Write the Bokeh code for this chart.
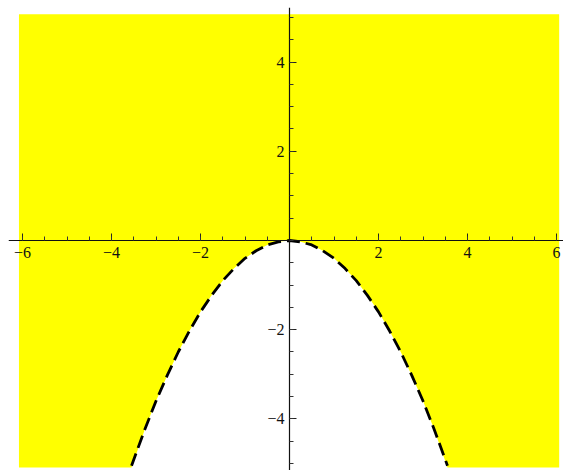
import numpy as np
from bokeh.plotting import figure
from bokeh.models import LinearAxis, FixedTicker
from bokeh.embed import file_html
from bokeh.resources import INLINE

curve_x = [-3.55, -3.25, -3.0, -2.75, -2.5, -2.25, -2.0, -1.75, -1.5, -1.25,
           -1.0, -0.75, -0.5, -0.25, 0.0, 0.25, 0.5, 0.75, 1.0, 1.25,
           1.5, 1.75, 2.0, 2.25, 2.5, 2.75, 3.0, 3.25, 3.55]
curve_y = [-5.05, -4.23, -3.6, -3.03, -2.5, -2.03, -1.6, -1.23, -0.9, -0.63,
           -0.4, -0.23, -0.1, -0.03, 0.0, -0.03, -0.1, -0.23, -0.4, -0.63,
           -0.9, -1.23, -1.6, -2.03, -2.5, -3.03, -3.6, -4.23, -5.05]

# Axis ticks
x_major_ticks = [-6, -4, -2, 2, 4, 6]
y_major_ticks = [-4, -2, 2, 4]

# Extent of the shaded region
x_lo, x_hi = -6.08, 6.06
y_lo, y_hi = -5.09, 5.07

p = figure(width=563, height=470, output_backend="svg", toolbar_location=None,
           x_range=(-6.315, 6.157), y_range=(-5.157, 5.224),
           x_axis_location=None, y_axis_location=None,
           min_border_left=8, min_border_top=7, min_border_right=0, min_border_bottom=0)
p.outline_line_color = None
p.grid.visible = False
p.background_fill_color = "white"
p.border_fill_color = "white"

# Shaded region: the rectangle minus the area below the curve
patch_x = [x_lo, x_hi, x_hi] + curve_x[::-1] + [x_lo]
patch_y = [y_hi, y_hi, y_lo, y_lo] + curve_y[::-1][1:-1] + [y_lo, y_lo]
p.patch(patch_x, patch_y, fill_color="#FFFF00", line_color=None)

p.line(curve_x, curve_y, line_color="black", line_width=2.8,
       line_dash="13 6", line_cap="butt")

x_minor = [float(v) for v in np.arange(-6.0, 6.01, 0.5)]
y_minor = [float(v) for v in np.arange(-5.0, 5.01, 0.5)]

font = "Liberation Serif"


def minus_label(t):
    return "\u2212" + str(-t) if t < 0 else str(t)


xaxis = LinearAxis(fixed_location=0,
                   ticker=FixedTicker(ticks=x_major_ticks, minor_ticks=x_minor))
yaxis = LinearAxis(fixed_location=0,
                   ticker=FixedTicker(ticks=y_major_ticks, minor_ticks=y_minor))
for ax, ticks, standoff in ((xaxis, x_major_ticks, 7), (yaxis, y_major_ticks, 5)):
    ax.axis_line_color = "#111111"
    ax.axis_line_width = 1.2
    ax.major_tick_in = 7
    ax.major_tick_out = 0
    ax.minor_tick_in = 4
    ax.minor_tick_out = 0
    ax.major_tick_line_color = "#222222"
    ax.minor_tick_line_color = "#333333"
    ax.major_label_text_font = font
    ax.major_label_text_font_size = "16px"
    ax.major_label_text_color = "#111111"
    ax.major_label_standoff = standoff
    ax.major_label_overrides = {t: minus_label(t) for t in ticks}
p.add_layout(xaxis, "below")
p.add_layout(yaxis, "left")

open("out.html", "w").write(file_html(p, INLINE))
